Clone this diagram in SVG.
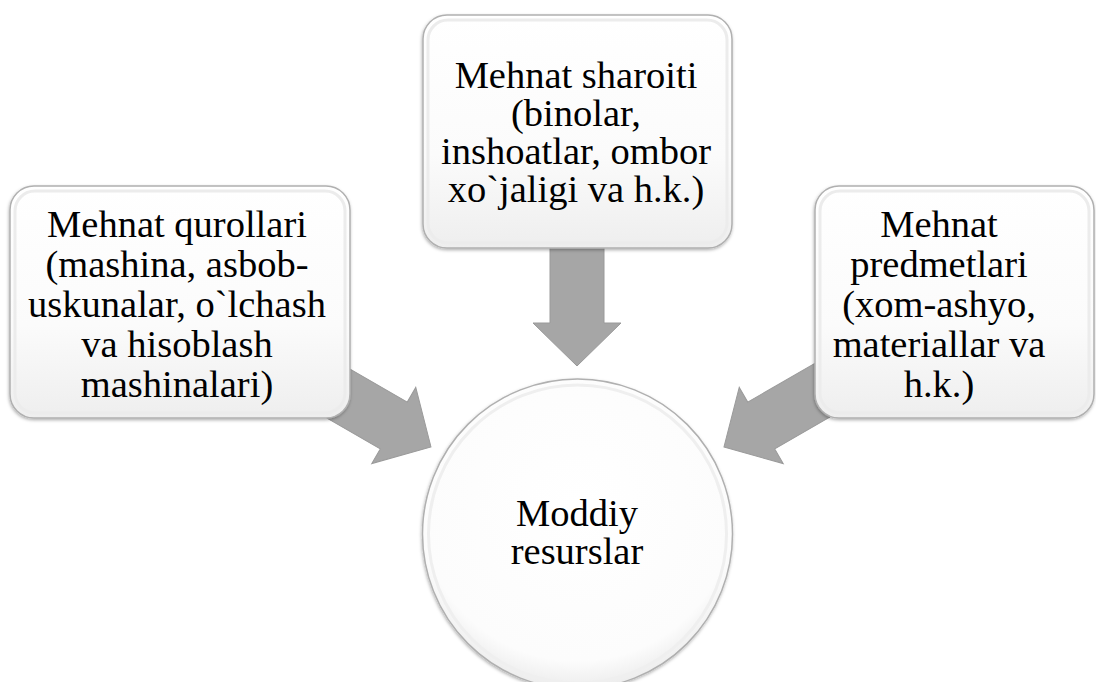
<svg xmlns="http://www.w3.org/2000/svg" width="1096" height="682" viewBox="0 0 1096 682">
  <style>
    .lbl { font-family: "Liberation Serif", "Times New Roman", serif; font-size: 38.5px; fill: #000; text-anchor: middle; }
    .box { fill: url(#boxGrad); stroke: #b0b0b0; stroke-width: 1.5; filter: url(#shadow); }
    .inner { fill: none; stroke: #ececec; stroke-width: 3; }
    .arrow { fill: #a6a6a6; stroke: #9a9a9a; stroke-width: 1; }
  </style>
  <defs>
    <linearGradient id="boxGrad" x1="0" y1="0" x2="0" y2="1">
      <stop offset="0" stop-color="#ffffff"/>
      <stop offset="0.6" stop-color="#fbfbfb"/>
      <stop offset="1" stop-color="#eeeeee"/>
    </linearGradient>
    <radialGradient id="circGrad" cx="0.5" cy="0.4" r="0.6">
      <stop offset="0" stop-color="#ffffff"/>
      <stop offset="0.85" stop-color="#fcfcfc"/>
      <stop offset="1" stop-color="#ececec"/>
    </radialGradient>
    <filter id="shadow" x="-10%" y="-10%" width="120%" height="120%">
      <feDropShadow dx="-0.5" dy="1.5" stdDeviation="1.5" flood-color="#000" flood-opacity="0.3"/>
    </filter>
    <path id="arr" d="M0,0 L-43,-44 L-43,-27 L-130,-27 L-130,27 L-43,27 L-43,44 Z"/>
  </defs>
  <rect width="1096" height="682" fill="#ffffff"/>

  <g id="connectors">
    <use href="#arr" class="arrow" transform="translate(577,366) rotate(90)"/>
    <use href="#arr" class="arrow" transform="translate(431,447) rotate(30)"/>
    <use href="#arr" class="arrow" transform="translate(724,447) rotate(150)"/>
  </g>

  <g id="node-qurollar">
    <rect class="box" x="10" y="186" width="340" height="232" rx="24"/>
    <rect class="inner" x="15" y="191" width="330" height="222" rx="20"/>
    <text class="lbl" x="177" y="237">Mehnat qurollari</text>
    <text class="lbl" x="177" y="277">(mashina, asbob-</text>
    <text class="lbl" x="177" y="317">uskunalar, o`lchash</text>
    <text class="lbl" x="177" y="357">va hisoblash</text>
    <text class="lbl" x="177" y="397">mashinalari)</text>
  </g>

  <g id="node-sharoiti">
    <rect class="box" x="423" y="15" width="309" height="233" rx="24"/>
    <rect class="inner" x="428" y="20" width="299" height="223" rx="20"/>
    <text class="lbl" x="576" y="88">Mehnat sharoiti</text>
    <text class="lbl" x="576" y="126">(binolar,</text>
    <text class="lbl" x="576" y="164">inshoatlar, ombor</text>
    <text class="lbl" x="576" y="202">xo`jaligi va h.k.)</text>
  </g>

  <g id="node-predmetlar">
    <rect class="box" x="815" y="186" width="279" height="232" rx="24"/>
    <rect class="inner" x="820" y="191" width="269" height="222" rx="20"/>
    <text class="lbl" x="939" y="237">Mehnat</text>
    <text class="lbl" x="939" y="277">predmetlari</text>
    <text class="lbl" x="939" y="317">(xom-ashyo,</text>
    <text class="lbl" x="939" y="357">materiallar va</text>
    <text class="lbl" x="939" y="397">h.k.)</text>
  </g>

  <g id="node-moddiy">
    <circle cx="577.5" cy="534" r="155" fill="url(#circGrad)" stroke="#b0b0b0" stroke-width="1.5" filter="url(#shadow)"/>
    <circle cx="577.5" cy="534" r="149" fill="none" stroke="#efefef" stroke-width="3"/>
    <text class="lbl" x="577" y="526">Moddiy</text>
    <text class="lbl" x="577" y="564">resurslar</text>
  </g>
</svg>
